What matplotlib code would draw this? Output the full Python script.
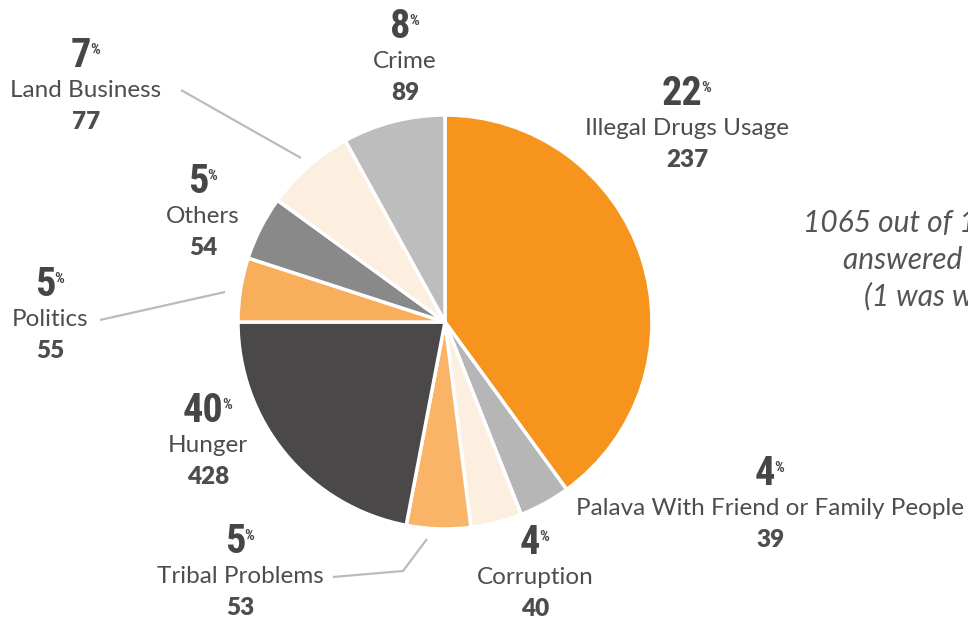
import matplotlib
matplotlib.use('Agg')
from matplotlib import pyplot as plt

# labels as printed on the chart (clockwise from top)
categories = ['Illegal Drugs Usage', 'Palava With Friend or Family People', 'Corruption',
              'Tribal Problems', 'Hunger', 'Politics', 'Others', 'Land Business', 'Crime']
counts = [237, 39, 40, 53, 428, 55, 54, 77, 89]
percents = [22, 4, 4, 5, 40, 5, 5, 7, 8]

# slice shares as drawn (the orange and dark slices are swapped against the labels)
slice_pct = [40, 4, 4, 5, 22, 5, 5, 7, 8]
slice_colors = ['#F7941D', '#B6B6B6', '#FDEFE0', '#F9B467', '#4A4849',
                '#F9AE5C', '#8A898A', '#FDEFE0', '#BDBDBD']

note_lines = ['1065 out of 1066 people', 'answered this', '(1 was wrong)']

W, H = 968, 619
TEXT = '#4D4D4D'
NUM = '#474546'
LINE = '#BBBBBB'

# label anchor: (center x, baseline of the name), in pixels from top-left
label_pos = [(687, 135), (770, 515), (535, 584), (240, 583), (208, 452),
             (50, 326), (203, 223), (86, 97), (405, 68)]

# leader lines, pixels from top-left
leaders = {
    'Land Business': [(181, 90), (301, 158)],
    'Politics': [(100, 320), (225, 292)],
    'Tribal Problems': [(333, 577), (403, 571), (427, 539)],
}

num_font = ['Roboto Condensed', 'Open Sans Condensed', 'Liberation Sans Narrow', 'DejaVu Sans']
txt_font = ['Lato', 'DejaVu Sans']


def Y(py):
    return H - py


fig = plt.figure(figsize=(W / 100, H / 100), dpi=100)
ax = fig.add_axes([0, 0, 1, 1])

ax.pie(slice_pct, colors=slice_colors, startangle=90, counterclock=False,
       center=(445, Y(322)), radius=207,
       wedgeprops=dict(edgecolor='white', linewidth=2.5))
ax.set_xlim(0, W)
ax.set_ylim(0, H)
ax.set_aspect('equal')
ax.axis('off')

for name, pts in leaders.items():
    ax.plot([p[0] for p in pts], [Y(p[1]) for p in pts], color=LINE, lw=1.6,
            solid_capstyle='butt')

for name, cnt, pct, (cx, by) in zip(categories, counts, percents, label_pos):
    t = ax.text(cx - 5, Y(by - 30), str(pct), ha='center', va='baseline',
                family=num_font, fontweight='bold', fontstretch='condensed',
                fontsize=29, color=NUM)
    ax.annotate('%', xy=(1, 1), xycoords=t, xytext=(-0.5, -4), textcoords='offset points',
                ha='left', va='top', family=num_font, fontweight='bold',
                fontstretch='condensed', fontsize=11, color=NUM)
    ax.text(cx, Y(by), name, ha='center', va='baseline', family=txt_font,
            fontsize=17.5, color=TEXT)
    ax.text(cx, Y(by + 32), str(cnt), ha='center', va='baseline', family=txt_font,
            fontweight='heavy', fontsize=17.5, color=TEXT)

# side note, cut off by the right edge as in the original
for (x, y), line in zip([(803, 232), (843, 269), (864, 306)], note_lines):
    ax.text(x, Y(y), line, ha='left', va='baseline', family=txt_font,
            style='italic', fontsize=21.5, color='#555555')

fig.savefig('out.png', dpi=100)
